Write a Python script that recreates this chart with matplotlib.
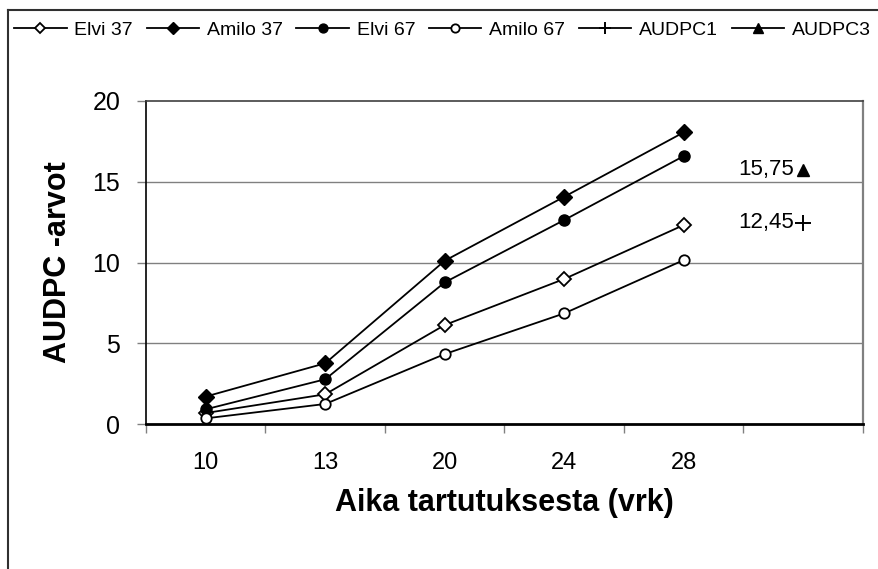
import numpy as np
import matplotlib
matplotlib.use("Agg")
import matplotlib.pyplot as plt
from matplotlib.lines import Line2D

plt.rcParams['font.family'] = ['Liberation Sans', 'DejaVu Sans']

# Days after inoculation (categories); one empty slot on the right holds the AUDPC reference points
days = ["10", "13", "20", "24", "28"]
n_slots = 6

elvi37 = [0.68, 1.84, 6.13, 8.98, 12.32]
amilo37 = [1.70, 3.76, 10.11, 14.07, 18.06]
elvi67 = [0.91, 2.77, 8.77, 12.63, 16.59]
amilo67 = [0.35, 1.24, 4.33, 6.85, 10.15]

audpc1 = 12.45
audpc3 = 15.75

W, H = 879, 569
fig = plt.figure(figsize=(W / 100, H / 100), dpi=100)
fig.patch.set_facecolor("white")

ax = fig.add_axes([146 / W, 1 - 424 / H, (863 - 146) / W, (424 - 101) / H])

x = np.arange(len(days))
lw = 1.3
ax.plot(x, elvi37, color="black", lw=lw, marker="D", ms=7, mfc="white", mec="black", mew=1.3, label="Elvi 37", zorder=3)
ax.plot(x, amilo37, color="black", lw=lw, marker="D", ms=8, mfc="black", mec="black", label="Amilo 37", zorder=3)
ax.plot(x, elvi67, color="black", lw=lw, marker="o", ms=8, mfc="black", mec="black", label="Elvi 67", zorder=3)
ax.plot(x, amilo67, color="black", lw=lw, marker="o", ms=7.5, mfc="white", mec="black", mew=1.3, label="Amilo 67", zorder=3)

slot = n_slots - 1
ax.plot([slot], [audpc1], color="black", lw=lw, marker="+", ms=11, mew=1.4, label="AUDPC1", zorder=3)
ax.plot([slot], [audpc3], color="black", lw=lw, marker="^", ms=9, mfc="black", mec="black", label="AUDPC3", zorder=3)

for val in (audpc1, audpc3):
    ax.annotate(f"{val:.2f}".replace(".", ","), xy=(slot, val), xytext=(-7, 0),
                textcoords="offset points", ha="right", va="center", fontsize=16)

ax.set_xlim(-0.5, n_slots - 0.5)
ax.set_ylim(0, 20)

# Category boundaries carry the ticks, category centres carry the labels
ax.set_xticks(np.arange(-0.5, n_slots, 1.0))
ax.set_xticklabels([])
ax.set_xticks(x, minor=True)
ax.set_xticklabels(days, minor=True, fontsize=17)
ax.tick_params(axis="x", which="major", direction="out", length=6.5, width=1, color="#808080")
ax.tick_params(axis="x", which="minor", length=0, pad=20)

ax.set_yticks([0, 5, 10, 15, 20])
ax.tick_params(axis="y", direction="out", length=6.5, width=1, color="#808080", labelsize=18, pad=12)

for yv in (5, 10, 15):
    ax.axhline(yv, color="#808080", lw=1, zorder=1)

ax.spines["left"].set_color("black")
ax.spines["left"].set_linewidth(1.2)
ax.spines["bottom"].set_color("black")
ax.spines["bottom"].set_linewidth(2)
ax.spines["top"].set_color("#404040")
ax.spines["top"].set_linewidth(1.2)
ax.spines["right"].set_color("#808080")
ax.spines["right"].set_linewidth(1.6)

ax.set_xlabel("Aika tartutuksesta (vrk)", fontsize=22, fontweight="bold", labelpad=10)
ax.set_ylabel("AUDPC -arvot", fontsize=22, fontweight="bold", labelpad=14)

handles, labels = ax.get_legend_handles_labels()
fig.legend(handles, labels, loc="center left", bbox_to_anchor=(14 / W, 1 - 30 / H),
           ncol=6, frameon=False, prop={"size": 14}, handlelength=2.7, handletextpad=0.4,
           columnspacing=0.7, markerscale=0.8, borderaxespad=0, borderpad=0)

# Chart frame (left and top edges)
fig.add_artist(Line2D([8 / W, 8 / W], [0, 1 - 10 / H], color="#303030", lw=1.5))
fig.add_artist(Line2D([8 / W, 1], [1 - 10 / H, 1 - 10 / H], color="#303030", lw=1.5))

fig.savefig("out.png", dpi=100)
